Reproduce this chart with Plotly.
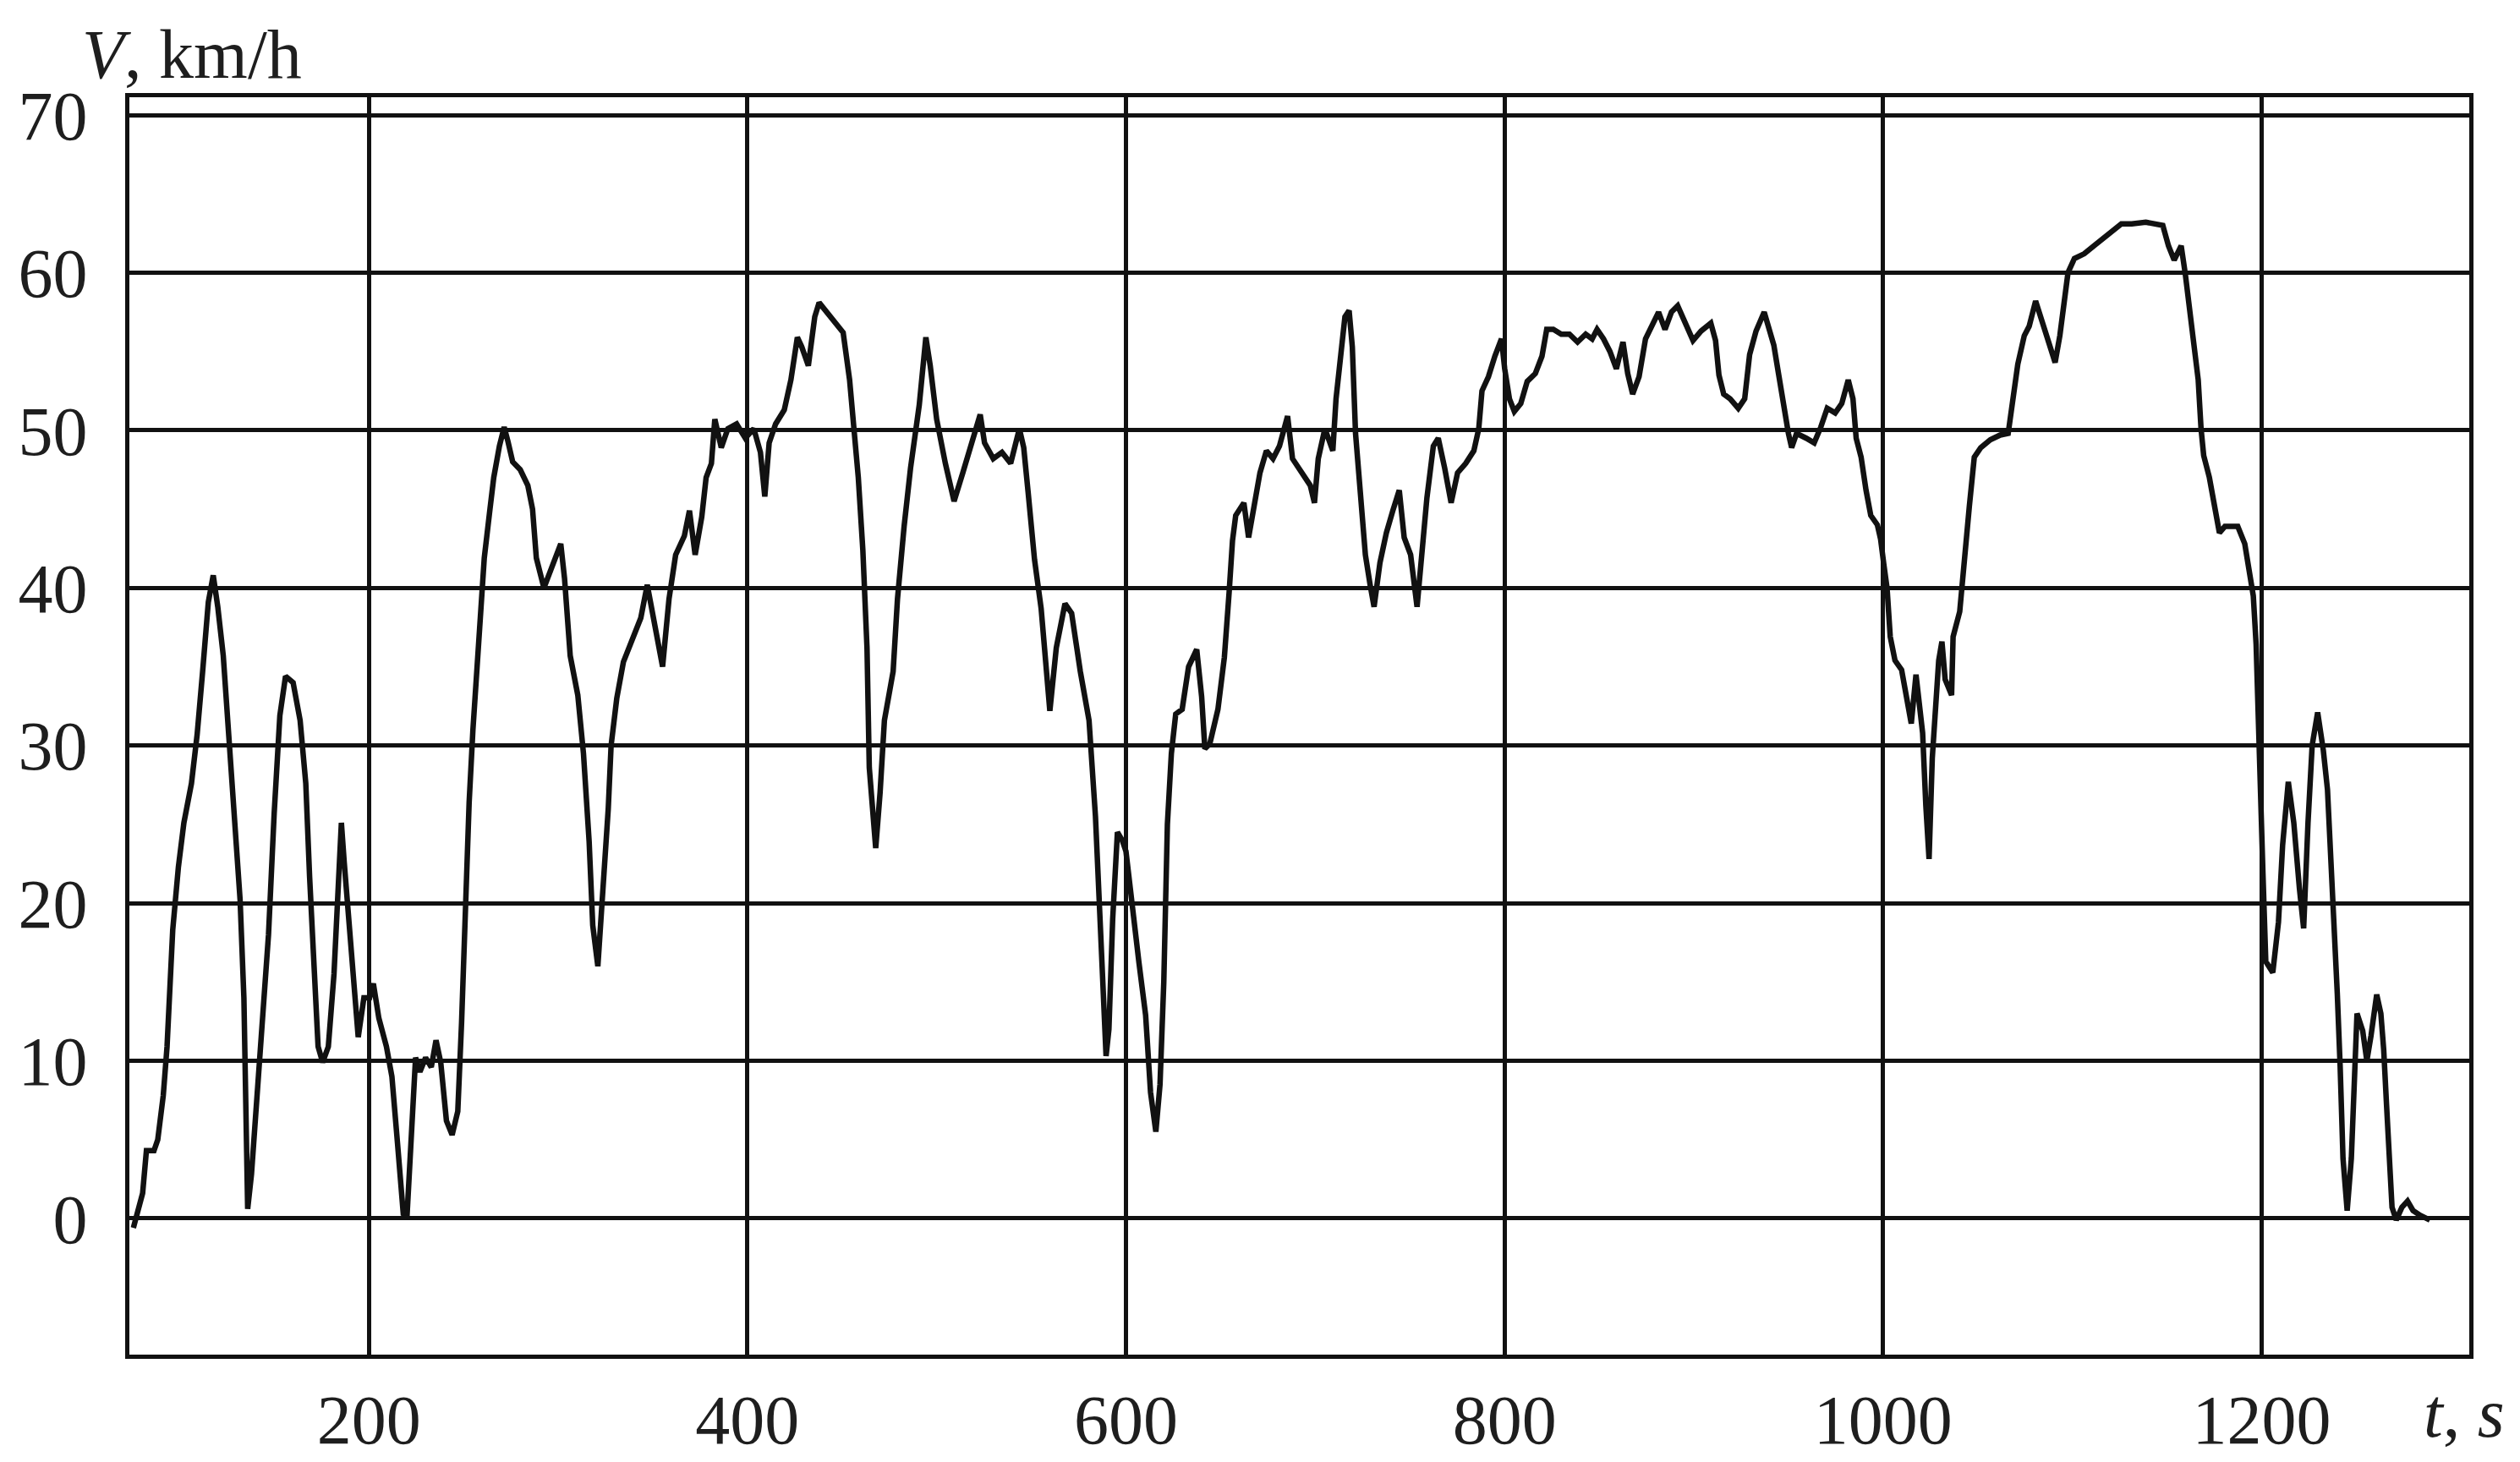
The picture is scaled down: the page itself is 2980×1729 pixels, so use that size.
import plotly.graph_objects as go

# Time (s) and speed (km/h)
t_s = [75.6, 78, 80.5, 82.5, 86.5, 88.5, 91.4, 93.4, 94.4, 96.4, 99.4, 102.3, 106.3, 109.3, 112.2,
       115.2, 117.8, 120.2, 123.1, 126.1, 129.1, 132, 134, 135, 136, 138, 141, 144, 147, 150,
       153, 156, 160, 163.7, 166.7, 168.7, 170.7, 173.2, 175.6, 178.6, 181.6, 184.5, 185.5, 187,
       189.5, 192.5, 194.4, 197.4, 200.4, 202.4, 205.3, 209.3, 212.2, 215.2, 218.2, 220.2, 222,
       224.7, 227, 230, 233, 235.5, 238, 241, 244, 247, 249, 251, 253, 255, 258, 261, 264,
       266, 269, 271.5, 273.5, 276, 280, 284, 286.5, 288.5, 292.5, 296.5, 301.4, 303.4, 306.4,
       310.4, 313.4, 316.4, 318.3, 321, 324, 326.5, 328, 331, 334.5, 339, 343.7, 347.1, 350.6,
       355.2, 358.6, 362.1, 366.7, 369.4, 372.4, 375.9, 378.2, 381, 382.8, 386.2, 389.7, 394.3,
       398.9, 403.4, 406.9, 409.2, 411.5, 414.9, 419.5, 423, 426.4, 428.7, 432.2, 435.6, 437.9,
       442.5, 447.1, 450.6, 454, 456.3, 458.6, 461, 463.2, 464.4, 466.7, 467.8, 470.1, 472.4,
       477, 479.3, 482.8, 486.2, 490.8, 494.3, 496.6, 500, 504.6, 509.2, 513.8, 518.4, 523,
       525.3, 529.9, 534.5, 539.1, 543.7, 546, 548.3, 551.7, 555.2, 559.8, 563.2, 567.8, 571.3,
       575.9, 580.5, 583.9, 586.2, 588.5, 589.5, 591, 593, 595.5, 598, 600, 603.5, 606.9, 610.4,
       613, 615.8, 618, 620, 621.9, 624, 626.3, 629.7, 633.1, 637.4, 640, 641.7, 644.3, 648.6,
       652, 654.5, 656.3, 658, 662.3, 664.8, 667.4, 670.8, 674.2, 677.7, 681.1, 685.4, 688,
       691.4, 694.8, 697.4, 699.6, 701.6, 705.1, 709.3, 711, 713.6, 715.7, 717.9, 719.6, 721.3,
       723.9, 726.5, 729, 731.1, 734.2, 737.6, 741, 744.4, 747, 750.4, 753.8, 756.4, 759, 762.4,
       765, 768.4, 771.8, 775.2, 779.5, 783.8, 786.4, 788.1, 791.5, 794.9, 798.4, 800.1, 802.6,
       805.2, 808.6, 812, 816.3, 819.8, 822.3, 825.8, 830, 834.3, 838.6, 842.9, 846.3, 848.9,
       852.3, 855.7, 859.1, 862.6, 865.1, 867.7, 871.1, 874.5, 878, 881.4, 884.8, 888.2, 891.5,
       895.3, 899.6, 903.9, 909, 911.5, 913.3, 915.8, 919.2, 923.5, 926.9, 929.5, 932.9, 937.2,
       939.7, 942.3, 944.9, 947.4, 950, 951.7, 954.3, 959.4, 963.6, 967.1, 970.5, 974.7, 978.2,
       981.6, 984.1, 985.8, 988.4, 991, 993.5, 997, 998.7, 1000.4, 1002.1, 1003.8, 1006.3,
       1009.8, 1012.3, 1014.9, 1017.4, 1019.1, 1020.9, 1022.6, 1024.3, 1026, 1027.7, 1029.4,
       1031.1, 1032.8, 1036.2, 1037, 1040.5, 1043.1, 1045.6, 1048.2, 1051.6, 1056.7, 1061.9,
       1066.1, 1068.7, 1071.2, 1074.6, 1077.2, 1080.6, 1084, 1087.5, 1090.9, 1093.4, 1096,
       1097.7, 1101.1, 1106.3, 1111.4, 1116.5, 1121.6, 1125.9, 1131.4, 1138.8, 1147.8, 1150.8,
       1153.8, 1157.5, 1159.7, 1162, 1164.2, 1166.5, 1168, 1169.4, 1172.4, 1175.4, 1177.7,
       1180.6, 1184.4, 1187.4, 1191.1, 1193.3, 1195.6, 1197.1, 1198.3, 1199.3, 1200.7, 1202.2,
       1205.9, 1208.9, 1211.1, 1214.1, 1217, 1220, 1222.2, 1224.5, 1226.7, 1229.6, 1232.6,
       1234.8, 1237, 1238.5, 1240, 1241.5, 1243, 1245.2, 1247.4, 1248.9, 1250.4, 1253.4, 1255.6,
       1257.8, 1260.8, 1263, 1264.5, 1266, 1267.4, 1268.9, 1271.1, 1274.1, 1277.1, 1280, 1283.7,
       1288.9]

v_kmh = [-0.6, 0.5, 1.6, 4.3, 4.3, 5, 7.8, 10.9, 14, 18.3, 22.3, 25.1, 27.6, 30.7, 34.7,
         39.1, 40.8, 38.8, 35.7, 30.7, 25.7, 20.2, 14, 7.8, 0.6, 2.8, 7.8, 12.4, 18, 25.7,
         31.9, 34.4, 34, 31.6, 27.6, 21.7, 16.1, 10.9, 9.9, 10.9, 15.5, 21.7, 25.1, 22.6,
         18.6, 14.6, 11.5, 14, 14, 14.9, 12.7, 10.9, 9, 4.7, 0.3, 0.2, 4.7,
         10.2, 9.3, 10.2, 9.6, 11.3, 9.9, 6.2, 5.3, 6.8, 12.4, 20.2, 26.4, 31, 37.2, 41.9, 45,
         47, 49, 50.2, 49.3, 48, 47.5, 46.5, 45, 41.9, 40, 41.2, 42.8, 40.6, 35.7,
         33.2, 29.5, 23.9, 18.6, 16.0, 21, 26, 30, 33, 35.3, 36.6, 38.1, 40.2, 38.1,
         35, 39.3, 42.1, 43.3, 44.9, 42.1, 44.5, 47, 47.9, 50.7, 48.9, 50.1, 50.4,
         49.5, 50.1, 48.6, 45.8, 49.2, 50.4, 51.3, 53.2, 55.9, 55.3, 54.1, 57.2, 58.1,
         57.4, 56.6, 56.2, 53.2, 50.1, 47, 42.4, 36.2, 28.6, 25.5, 23.5, 27, 31.6,
         34.7, 39.3, 43.9, 47.6, 51.6, 55.9, 54.1, 50.7, 47.9, 45.5, 47.3, 49.2, 51,
         49.2, 48.2, 48.6, 47.9, 50.1, 48.9, 46.1, 41.8, 38.7, 32.2, 36.2, 39, 38.4,
         34.7, 31.6, 25.5, 19.3, 12, 10.3, 12, 19, 24.5, 24, 23.3, 19.3, 16.2, 12.9,
         8, 5.5, 8.5, 15, 25, 29.5, 32, 32.3, 35, 36.1, 33.1, 29.8, 30.1, 32.3,
         35.6, 39.7, 43, 44.6, 45.4, 43.2, 44.9, 47.3, 48.7, 48.2, 49, 50.9, 48.2,
         47.6, 47.1, 46.5, 45.4, 48.2, 50.1, 48.7, 52, 54.7, 57.2, 57.6, 55.3, 49.8,
         46, 42.1, 40.2, 38.8, 41.6, 43.5, 44.9, 46.2, 43.2, 42.1, 38.8, 42.4, 45.7, 49,
         49.5, 47.6, 45.4, 47.3, 47.9, 48.7, 50.1, 52.5, 53.4, 54.7, 55.8, 53.9, 52,
         51.2, 51.7, 53.1, 53.6, 54.7, 56.4, 56.4, 56.1, 56.1, 55.6, 56.1, 55.8, 56.4,
         55.8, 55, 53.9, 55.6, 53.6, 52.3, 53.4, 55.8, 56.7, 57.5, 56.4, 57.5, 57.9,
         56.9, 55.7, 56.3, 56.8, 55.7, 53.5, 52.3, 52, 51.4, 52, 54.8, 56.3, 57.5,
         56.3, 55.4, 53.5, 51.4, 49.8, 48.9, 49.8, 49.5, 49.2, 50.2, 51.4, 51.1, 51.7,
         53.2, 52, 49.5, 48.3, 46.2, 44.6, 44, 43.1, 41.5, 40, 36.9, 35.4,
         34.8, 32.9, 31.4, 34.5, 32.3, 30.8, 26.2, 22.8, 29.2, 32.3, 35.4,
         36.6, 34.2, 33.2, 36.9, 38.5, 42.2, 45.2, 48.3, 48.9, 49.4, 49.7,
         49.8, 52, 54.2, 56, 56.6, 58.2, 56.9, 55.4, 54.3, 56, 58.2,
         60, 60.9, 61.2, 61.7, 62.2, 62.6, 63.1, 63.1, 63.2, 63, 61.7,
         60.8, 61.7, 59.9, 57.7, 55.9, 53.2, 50.1, 48.4, 47, 45.2, 43.5,
         43.9, 43.9, 43.9, 42.8, 41.2, 39.5, 36.4, 30.6, 26, 21.9, 16.3,
         15.6, 18.8, 23.7, 27.7, 25.1, 20.9, 18.4, 25.1, 30, 32.1, 29.7,
         27.2, 22.3, 18.1, 14.2, 9.6, 3.8, 0.5, 3.8, 8.4, 13, 11.9, 10,
         11.6, 14.2, 13, 10.7, 7.2, 3.1, 0.7, -0.1, 0.7, 1.1, 0.5, 0.2,
         -0.1]

x_ticks = [200, 400, 600, 800, 1000, 1200]
y_ticks = [0, 10, 20, 30, 40, 50, 60, 70]
x_range = [73.5, 1309.7]
y_range = [-8.64, 71.13]

FONT = "Liberation Serif"
INK = "#111111"
TEXT = "#1e1e1e"

fig = go.Figure()
fig.add_trace(go.Scatter(
    x=t_s, y=v_kmh, mode="lines",
    line=dict(color=INK, width=6.5),
    showlegend=False, hoverinfo="skip",
))

axis_common = dict(
    showgrid=True, gridcolor=INK, gridwidth=4.5,
    showline=True, linecolor=INK, linewidth=5, mirror=True,
    zeroline=False, automargin=False,
    tickfont=dict(family=FONT, size=82, color=TEXT),
    ticks="outside", tickcolor="rgba(0,0,0,0)",
)

fig.update_xaxes(range=x_range, tickvals=x_ticks, ticklen=2, **axis_common)
fig.update_yaxes(range=y_range, tickvals=y_ticks, ticklen=28, **axis_common)

fig.add_annotation(
    xref="paper", yref="paper", x=-0.021, y=1.034,
    xanchor="left", yanchor="middle", showarrow=False,
    text="<i>V</i>, km/h", font=dict(family=FONT, size=82, color=TEXT),
)
fig.add_annotation(
    xref="paper", yref="paper", x=1.016, y=-0.047,
    xanchor="right", yanchor="middle", showarrow=False,
    text="<i>t</i>, <i>s</i>", font=dict(family=FONT, size=82, color=TEXT),
)

fig.update_layout(
    width=2980, height=1729,
    margin=dict(l=145, r=68, t=107, b=135),
    paper_bgcolor="white", plot_bgcolor="white",
)

fig.write_html("out.html")
